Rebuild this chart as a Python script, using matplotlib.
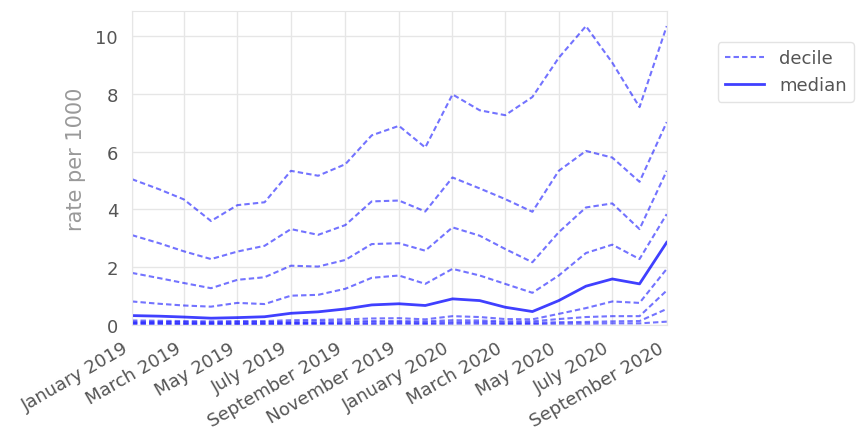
import pandas as pd
import matplotlib
matplotlib.use("Agg")
import matplotlib.pyplot as plt
import matplotlib.dates as mdates

months = pd.date_range("2019-01-01", "2020-09-01", freq="MS")

# deciles (rate per 1000)
p90 = [5.05, 4.7, 4.35, 3.6, 4.15, 4.25, 5.34, 5.17, 5.57, 6.57, 6.9,
       6.15, 7.99, 7.44, 7.27, 7.9, 9.26, 10.36, 9.09, 7.55, 10.36]
p80 = [3.11, 2.83, 2.55, 2.28, 2.54, 2.74, 3.32, 3.12, 3.46, 4.28, 4.31,
       3.93, 5.11, 4.73, 4.36, 3.92, 5.34, 6.03, 5.8, 4.96, 7.03]
p70 = [1.8, 1.62, 1.45, 1.27, 1.56, 1.65, 2.05, 2.02, 2.25, 2.8, 2.83,
       2.57, 3.38, 3.09, 2.63, 2.17, 3.21, 4.07, 4.21, 3.32, 5.34]
p60 = [0.81, 0.73, 0.67, 0.63, 0.76, 0.72, 1.01, 1.04, 1.25, 1.63, 1.71,
       1.42, 1.94, 1.71, 1.42, 1.11, 1.71, 2.49, 2.78, 2.28, 3.84]
median = [0.32, 0.3, 0.27, 0.23, 0.25, 0.28, 0.4, 0.45, 0.55, 0.69, 0.73,
          0.67, 0.9, 0.84, 0.61, 0.46, 0.84, 1.34, 1.59, 1.42, 2.86]
p40 = [0.15, 0.14, 0.13, 0.12, 0.13, 0.13, 0.16, 0.17, 0.19, 0.22, 0.23,
       0.19, 0.3, 0.27, 0.2, 0.19, 0.38, 0.58, 0.81, 0.76, 1.94]
p30 = [0.1, 0.1, 0.09, 0.08, 0.09, 0.09, 0.1, 0.11, 0.12, 0.13, 0.13,
       0.12, 0.16, 0.15, 0.12, 0.12, 0.2, 0.27, 0.3, 0.3, 1.19]
p20 = [0.06, 0.06, 0.05, 0.05, 0.05, 0.05, 0.06, 0.06, 0.07, 0.08, 0.08,
       0.07, 0.09, 0.09, 0.07, 0.07, 0.09, 0.1, 0.12, 0.13, 0.55]
p10 = [0.03, 0.03, 0.02, 0.02, 0.02, 0.02, 0.03, 0.03, 0.03, 0.03, 0.04,
       0.03, 0.04, 0.04, 0.03, 0.03, 0.04, 0.04, 0.05, 0.05, 0.11]

deciles = [p10, p20, p30, p40, p60, p70, p80, p90]

fig = plt.figure(figsize=(8.57, 4.35), dpi=100)
ax = fig.add_axes([0.154, 0.251, 0.624, 0.721])

for i, d in enumerate(deciles):
    ax.plot(months, d, color="blue", linestyle=(0, (2.6, 1.5)), linewidth=1.5,
            alpha=0.55, label="decile" if i == 0 else None)
ax.plot(months, median, color="blue", linestyle="-", linewidth=2, alpha=0.75,
        label="median")

ax.set_xlim(months[0], months[-1])
ax.set_ylim(bottom=0)
ax.set_yticks([0, 2, 4, 6, 8, 10])
ax.xaxis.set_major_locator(mdates.MonthLocator(interval=2))
ax.xaxis.set_major_formatter(mdates.DateFormatter("%B %Y"))
plt.setp(ax.get_xticklabels(), rotation=30, ha="right")

ax.grid(True, color="#e6e6e6", linewidth=1)
ax.set_axisbelow(True)
for s in ax.spines.values():
    s.set_color("#e6e6e6")
ax.tick_params(colors="#555555", labelsize=13, length=0, pad=10)
ax.set_ylabel("rate per 1000", fontsize=15, color="#999999")
ax.yaxis.set_label_coords(-0.086, 0.532)

leg = ax.legend(loc="upper left", bbox_to_anchor=(1.095, 0.901), borderaxespad=0,
                fontsize=13, handlelength=2.2, frameon=True, edgecolor="#dddddd")
for t in leg.get_texts():
    t.set_color("#555555")

fig.savefig("out.png", dpi=100)
